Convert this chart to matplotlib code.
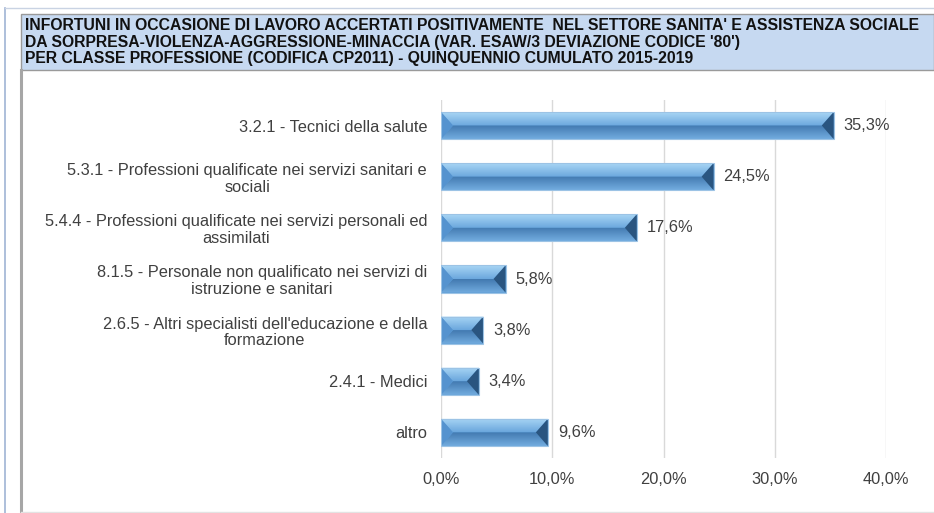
import matplotlib
matplotlib.use("Agg")
import matplotlib.pyplot as plt
import numpy as np
from matplotlib.patches import Polygon, Rectangle
from matplotlib.lines import Line2D
from matplotlib.colors import LinearSegmentedColormap

# Data
categories = [
    "3.2.1 - Tecnici della salute",
    "5.3.1 - Professioni qualificate nei servizi sanitari e\nsociali",
    "5.4.4 - Professioni qualificate nei servizi personali ed\nassimilati",
    "8.1.5 - Personale non qualificato nei servizi di\nistruzione e sanitari",
    "2.6.5 - Altri specialisti dell'educazione e della\nformazione",
    "2.4.1 - Medici",
    "altro",
]
values = [35.3, 24.5, 17.6, 5.8, 3.8, 3.4, 9.6]
xticks = [0, 10, 20, 30, 40]
xtick_labels = ["0,0%", "10,0%", "20,0%", "30,0%", "40,0%"]
title_lines = [
    "INFORTUNI IN OCCASIONE DI LAVORO ACCERTATI POSITIVAMENTE  NEL SETTORE SANITA' E ASSISTENZA SOCIALE",
    "DA SORPRESA-VIOLENZA-AGGRESSIONE-MINACCIA (VAR. ESAW/3 DEVIAZIONE CODICE '80')",
    "PER CLASSE PROFESSIONE (CODIFICA CP2011) - QUINQUENNIO CUMULATO 2015-2019",
]

W, H = 934, 513
fig = plt.figure(figsize=(W / 100, H / 100), dpi=100)
fig.patch.set_facecolor("white")

def fx(px):
    return px / W

def fy(py):
    return 1 - py / H

# Frame decorations
fig.add_artist(Line2D([fx(5), fx(5)], [fy(8), fy(513)], color="#9fb4d4", lw=1.2))
fig.add_artist(Line2D([fx(5), fx(934)], [fy(8), fy(8)], color="#c9d3e3", lw=1.0))
fig.add_artist(Line2D([fx(21), fx(21)], [fy(70), fy(513)], color="#a6a6a6", lw=2.2))
fig.add_artist(Line2D([fx(21), fx(934)], [fy(511.5), fy(511.5)], color="#e3e3e3", lw=1.0))
fig.add_artist(Rectangle((fx(21), fy(70)), fx(934) - fx(21), fy(14) - fy(70),
                         facecolor="#c6d9f1", edgecolor="#9a9a9a", lw=1.0,
                         transform=fig.transFigure))

title_font = ["Liberation Sans Narrow", "Liberation Sans", "DejaVu Sans"]
for i, line in enumerate(title_lines):
    fig.text(fx(25), fy(25 + 17 * i), line, ha="left", va="center",
             fontsize=11.3, fontweight="bold", color="#111111", family=title_font)

label_font = ["Liberation Sans", "DejaVu Sans"]
fs = 11.8

# Plot area
ax = fig.add_axes([fx(441), fy(458), fx(886) - fx(441), fy(100) - fy(458)])
ax.set_xlim(0, 40)
ypos = np.arange(len(categories))
ax.set_ylim(len(categories) - 0.5, -0.5)

bars = ax.barh(ypos, values, height=0.53, color="#5b9bd5", edgecolor="none", zorder=2)

ax.set_xticks(xticks, xtick_labels)
ax.set_yticks(ypos, categories, ma="center", linespacing=1.12)
ax.tick_params(axis="both", length=0, colors="#404040", labelsize=fs)
ax.tick_params(axis="y", pad=10)
ax.tick_params(axis="x", pad=10)
for lab in ax.get_xticklabels() + ax.get_yticklabels():
    lab.set_family(label_font)
for s in ax.spines.values():
    s.set_visible(False)
ax.grid(axis="x", color="#d9d9d9", lw=1.0, zorder=0)
ax.set_axisbelow(True)

# Bevelled look for each bar
px_per_unit = (886 - 441) / 40.0
depth = 12 / px_per_unit

def grad_fill(poly, c_from, c_to, y_from, y_to, x0, x1):
    cmap = LinearSegmentedColormap.from_list("g", [c_from, c_to])
    grad = np.linspace(0, 1, 64).reshape(-1, 1)
    im = ax.imshow(grad, cmap=cmap, extent=[x0, x1, y_to, y_from],
                   aspect="auto", origin="lower", zorder=3, interpolation="bilinear")
    im.set_clip_path(poly)

for bar in bars:
    x0 = bar.get_x()
    w = bar.get_width()
    x1 = x0 + w
    yt = bar.get_y()            # upper edge on screen (inverted axis)
    yb = yt + bar.get_height()  # lower edge on screen
    ym = (yt + yb) / 2
    d = min(depth, w / 2.5)

    top = Polygon([(x0, yt), (x1, yt), (x1 - d, ym), (x0 + d, ym)], closed=True,
                  facecolor="none", edgecolor="none", zorder=3)
    bot = Polygon([(x0, yb), (x1, yb), (x1 - d, ym), (x0 + d, ym)], closed=True,
                  facecolor="none", edgecolor="none", zorder=3)
    ax.add_patch(top)
    ax.add_patch(bot)
    grad_fill(top, "#6ba7dd", "#a9d6f5", yt, ym, x0, x1)
    grad_fill(bot, "#72acdf", "#4279b0", ym, yb, x0, x1)
    ax.add_patch(Polygon([(x0, yt), (x0 + d, ym), (x0, yb)], closed=True,
                         facecolor="#5593cf", edgecolor="none", zorder=4))
    ax.add_patch(Polygon([(x1, yt), (x1 - d, ym), (x1, yb)], closed=True,
                         facecolor="#2a5580", edgecolor="none", zorder=4))
    ax.add_patch(Rectangle((x0, yt), w, yb - yt, facecolor="none",
                           edgecolor="#9cc3e5", lw=0.8, zorder=5))
    ax.text(x1 + 10 / px_per_unit, ym, f"{bar.get_width():.1f}%".replace(".", ","),
            ha="left", va="center", fontsize=fs, color="#404040",
            family=label_font, zorder=6)

ax.set_xlim(0, 40)
ax.set_ylim(len(categories) - 0.5, -0.5)

fig.savefig("out.png", dpi=100)
